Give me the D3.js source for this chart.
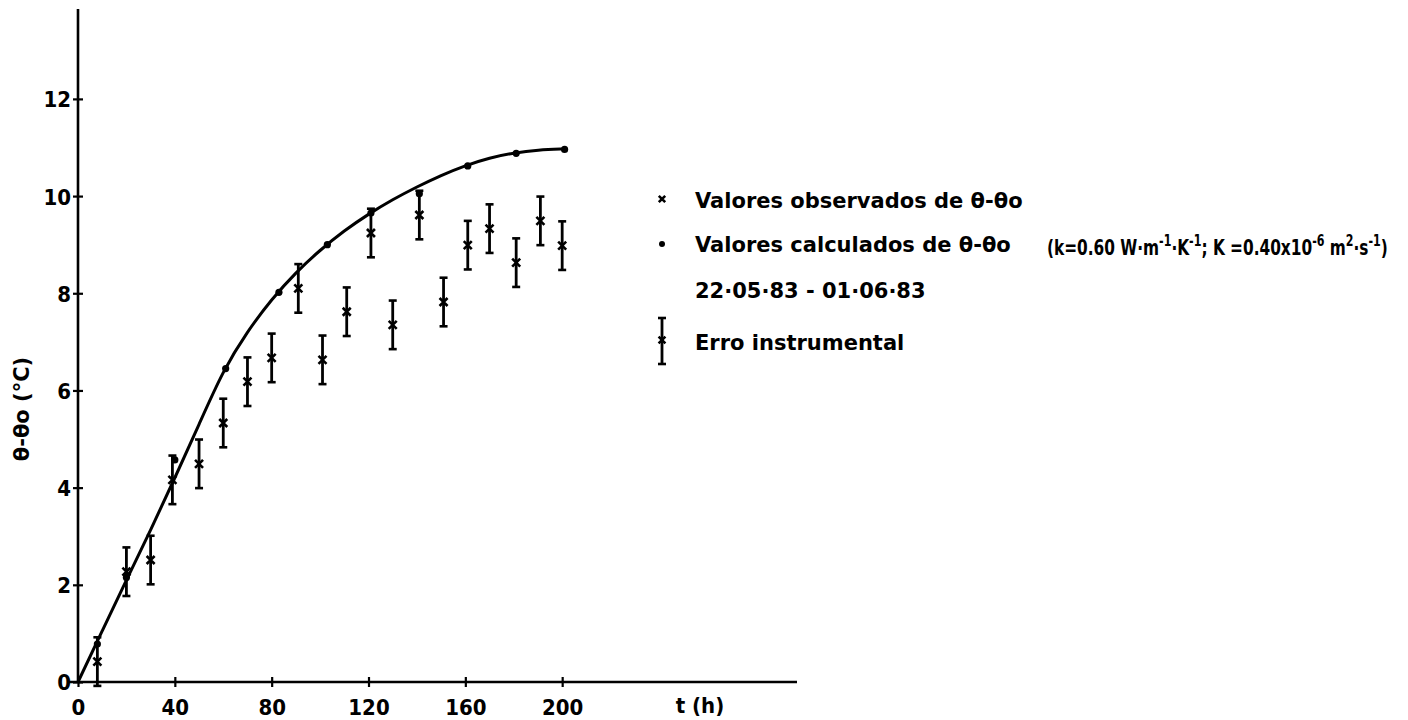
<!DOCTYPE html>
<html>
<head>
<meta charset="utf-8">
<script src="https://cdn.jsdelivr.net/npm/d3@7"></script>
<style>
  html, body { margin: 0; padding: 0; background: #fff; }
  svg { display: block; }
  text { font-family: "DejaVu Sans", sans-serif; fill: #000; font-weight: bold; }
  .cond { font-family: "DejaVu Sans Condensed", "DejaVu Sans", sans-serif; }
</style>
</head>
<body>
<svg id="chart" width="1408" height="720"></svg>
<script>
// Observed temperature rise θ-θo (°C) with instrumental error
const obsT = [8, 20, 30, 39, 50, 60, 70, 80, 91, 101, 111, 121, 130, 141, 151, 161, 170, 181, 191, 200];
const obsV = [0.42, 2.27, 2.51, 4.16, 4.49, 5.33, 6.18, 6.67, 8.10, 6.63, 7.62, 9.24, 7.35, 9.61, 7.82, 8.99, 9.33, 8.63, 9.49, 8.98];
const instrumentError = 0.5;

// Calculated values (k = 0.60 W m-1 K-1, K = 0.40e-6 m2 s-1)
const calcT = [8, 20, 40, 61, 83, 103, 121, 141, 161, 181, 201];
const calcV = [0.78, 2.15, 4.57, 6.45, 8.02, 9.00, 9.65, 10.05, 10.62, 10.88, 10.96];

// Smooth fitted curve (B-spline control values)
const curveT = [0, 10, 20, 30, 40, 50, 60, 70, 80, 90, 100, 110, 120, 130, 140, 150, 160, 170, 180, 190, 201];
const curveV = [0, 1.05, 2.1, 3.12, 4.2, 5.3, 6.42, 7.22, 7.88, 8.43, 8.89, 9.29, 9.63, 9.93, 10.19, 10.43, 10.63, 10.79, 10.89, 10.95, 10.97];

const xTicks = [0, 40, 80, 120, 160, 200];
const yTicks = [0, 2, 4, 6, 8, 10, 12];

const svg = d3.select("#chart");

const x = d3.scaleLinear().domain([0, 297]).range([78, 797]);
const y = d3.scaleLinear().domain([0, 13.85]).range([682, 9]);

const ink = "#000";

// Axes
const xAxis = svg.append("g")
  .attr("transform", `translate(0,${y(0)})`)
  .call(d3.axisBottom(x).tickValues(xTicks).tickSize(5).tickFormat(d3.format("d")));
const yAxis = svg.append("g")
  .attr("transform", `translate(${x(0)},0)`)
  .call(d3.axisLeft(y).tickValues(yTicks).tickSize(5).tickFormat(d3.format("d")));

[xAxis, yAxis].forEach(g => {
  g.attr("font-family", null);
  g.select(".domain").remove();
  g.selectAll("line").attr("stroke", ink).attr("stroke-width", 2.2);
  g.selectAll("text")
    .attr("class", "cond")
    .style("font-size", "22px")
    .attr("fill", ink);
});
xAxis.selectAll(".tick line").attr("y1", -5).attr("y2", 5);
xAxis.selectAll(".tick text").attr("y", 17).attr("dy", "0.71em");
yAxis.selectAll(".tick line").attr("x1", -5).attr("x2", 5);
yAxis.selectAll(".tick text").attr("x", -7).attr("dy", "0.36em");

// Axis lines
svg.append("line")
  .attr("x1", x(0) - 10).attr("x2", x(297))
  .attr("y1", y(0)).attr("y2", y(0))
  .attr("stroke", ink).attr("stroke-width", 2.6);
svg.append("line")
  .attr("x1", x(0)).attr("x2", x(0))
  .attr("y1", y(0) + 1).attr("y2", y(13.85))
  .attr("stroke", ink).attr("stroke-width", 2.6);

// Axis titles
svg.append("text")
  .attr("class", "cond")
  .attr("x", 700).attr("y", 713)
  .attr("text-anchor", "middle")
  .style("font-size", "22px")
  .text("t (h)");

svg.append("text")
  .attr("transform", "translate(29,409) rotate(-90)")
  .attr("text-anchor", "middle")
  .style("font-size", "21px")
  .text("θ-θo (°C)");

// Fitted curve
const curvePts = curveT.map((t, i) => [t, curveV[i]]);
svg.append("path")
  .datum(curvePts)
  .attr("fill", "none")
  .attr("stroke", ink)
  .attr("stroke-width", 3)
  .attr("d", d3.line().x(d => x(d[0])).y(d => y(d[1])).curve(d3.curveBasis));

// Calculated points
svg.append("g").selectAll("circle")
  .data(calcT.map((t, i) => [t, calcV[i]]))
  .join("circle")
  .attr("cx", d => x(d[0]))
  .attr("cy", d => y(d[1]))
  .attr("r", 3.6)
  .attr("fill", ink);

// Error bar with cross marker
function errorMark(g, cx, cy, top, bottom, s) {
  g.append("line").attr("x1", cx).attr("x2", cx).attr("y1", top).attr("y2", bottom)
    .attr("stroke", ink).attr("stroke-width", 2.8);
  [top, bottom].forEach(yy => {
    g.append("line").attr("x1", cx - 4).attr("x2", cx + 4).attr("y1", yy).attr("y2", yy)
      .attr("stroke", ink).attr("stroke-width", 2.6);
  });
  crossMark(g, cx, cy, s);
}
function crossMark(g, cx, cy, s) {
  g.append("path")
    .attr("d", `M${cx - s},${cy - s}L${cx + s},${cy + s}M${cx - s},${cy + s}L${cx + s},${cy - s}`)
    .attr("stroke", ink).attr("stroke-width", 2.6).attr("fill", "none");
}

const obsG = svg.append("g");
obsT.forEach((t, i) => {
  const v = obsV[i];
  errorMark(obsG, x(t), y(v), y(v + instrumentError), y(v - instrumentError), 4);
});

// Legend
const legend = svg.append("g");
const lx = 662, tx = 695;
const lineText = (yy, str) => legend.append("text")
  .attr("x", tx).attr("y", yy)
  .style("font-size", "21px")
  .text(str);

crossMark(legend, lx, 199, 3.2);
lineText(208, "Valores observados de θ-θo");

legend.append("circle").attr("cx", lx).attr("cy", 244).attr("r", 3).attr("fill", ink);
lineText(252, "Valores calculados de θ-θo");

lineText(298, "22·05·83 - 01·06·83");

errorMark(legend, lx, 340, 318, 364, 3.4);
lineText(350, "Erro instrumental");

// Parameter note with superscripts, narrowed to fit the right margin
const note = legend.append("text")
  .attr("class", "cond")
  .attr("x", 0).attr("y", 0)
  .style("font-size", "21px");
const parts = [
  ["(k=0.60 W·m", 0], ["-1", 1], ["·K", 0], ["-1", 1], ["; K =0.40x10", 0], ["-6", 1],
  [" m", 0], ["2", 1], ["·s", 0], ["-1", 1], [")", 0]
];
let raised = false;
parts.forEach(([s, sup]) => {
  const ts = note.append("tspan").text(s);
  if (sup) ts.style("font-size", "0.72em");
  if (sup && !raised) { ts.attr("dy", "-0.6em"); raised = true; }
  else if (!sup && raised) { ts.attr("dy", "0.432em"); raised = false; }
});
const w = note.node().getComputedTextLength();
note.attr("transform", `translate(1047,255) scale(${(341 / w).toFixed(4)},1)`);
</script>
</body>
</html>
